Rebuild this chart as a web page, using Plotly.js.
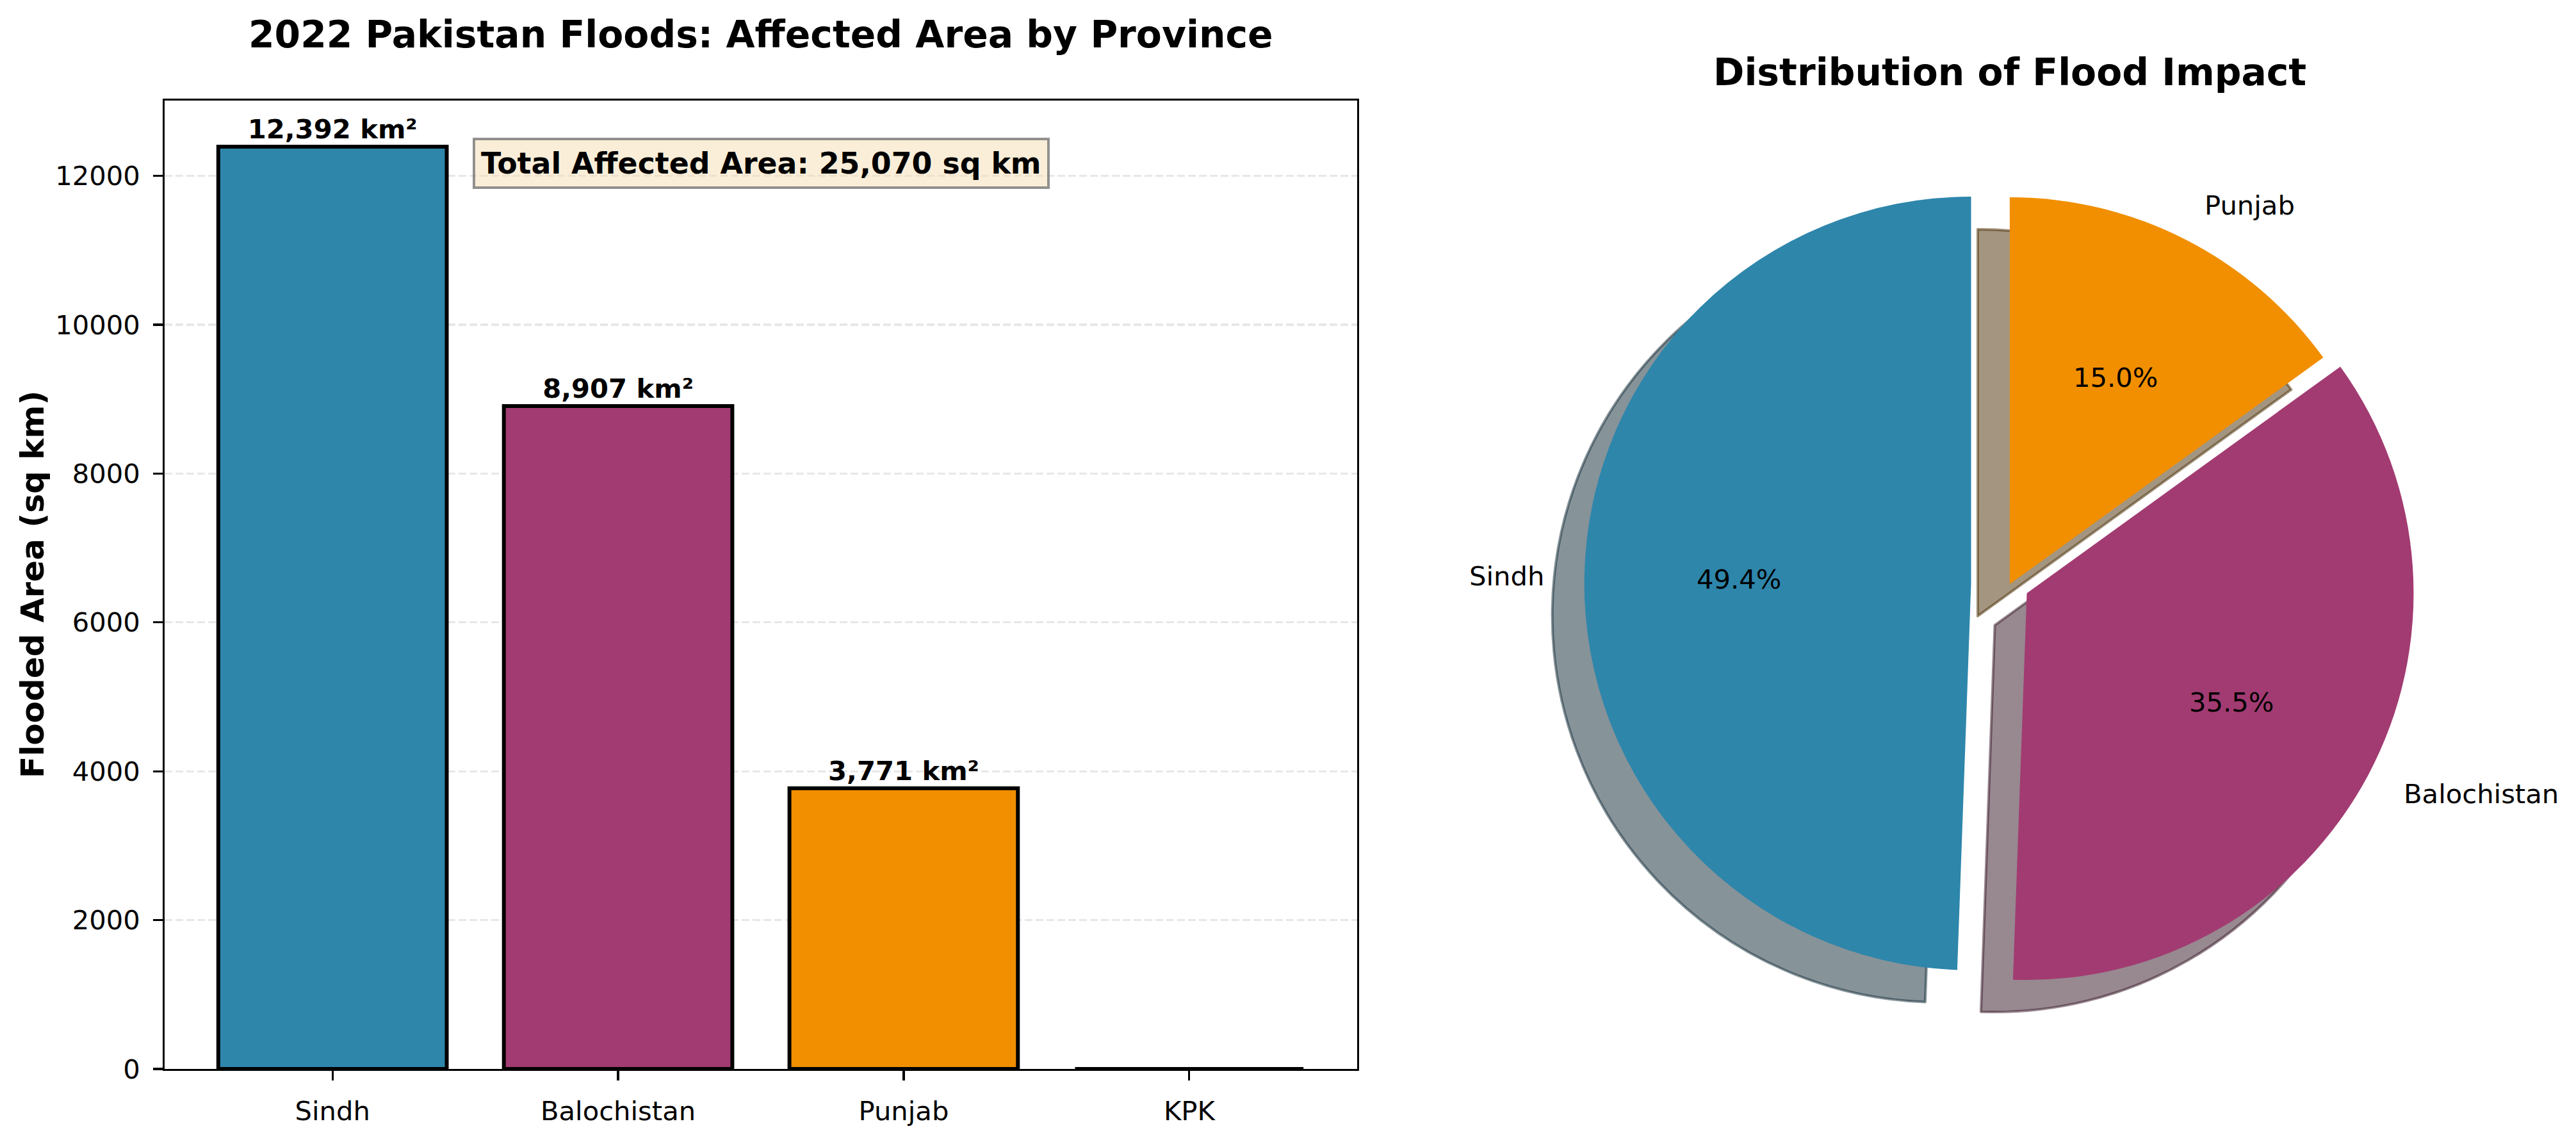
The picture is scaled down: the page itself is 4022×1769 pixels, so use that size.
<!DOCTYPE html>
<html>
<head>
<meta charset="utf-8">
<script src="https://cdn.plot.ly/plotly-3.0.1.min.js"></script>
<style>html,body{margin:0;padding:0;background:#ffffff;}</style>
</head>
<body>
<div id="chart" style="width:4022px;height:1769px;"></div>
<script>
// ---------------- data ----------------
const provinces = ['Sindh', 'Balochistan', 'Punjab', 'KPK'];
const areaSqKm = [12392, 8907, 3771, 0];
const yTickValues = [0, 2000, 4000, 6000, 8000, 10000, 12000];
const barTitle = '2022 Pakistan Floods: Affected Area by Province';
const pieTitle = 'Distribution of Flood Impact';
const yLabel = 'Flooded Area (sq km)';

// ---------------- style ----------------
const W = 4022, H = 1769;
const FONT = 'DejaVu Sans';
const colors = ['#2E86AB', '#A23B72', '#F18F01', '#C73E1D'];
const explodeByProvince = {Sindh: 0.1, Balochistan: 0.05, Punjab: 0, KPK: 0};
const barDom = {x: [257 / W, 2119 / W], y: [(H - 1669) / H, (H - 157) / H]};
const pieDom = {x: [0.61502, 0.94535], y: [0.10888, 0.86004]};
const shadowPx = 50;

function hexToRgb(h) {
  const n = parseInt(h.slice(1), 16);
  return [(n >> 16) & 255, (n >> 8) & 255, n & 255];
}

const total = areaSqKm.reduce((a, b) => a + b, 0);
const fmt = v => v.toLocaleString('en-US');

// ---------------- bar chart ----------------
const barTrace = {
  type: 'bar',
  x: provinces,
  y: areaSqKm,
  width: 0.8,
  marker: {color: colors, line: {color: '#000000', width: 6}},
  text: areaSqKm.map(v => v > 0 ? fmt(v) + ' km²' : ''),
  textposition: 'outside',
  constraintext: 'none',
  cliponaxis: false,
  textfont: {family: FONT, size: 41.7, color: '#000000', weight: 'bold'},
  hoverinfo: 'skip',
  xaxis: 'x', yaxis: 'y',
  showlegend: false
};

// ---------------- pie ----------------
const pieIdx = areaSqKm.map((v, i) => i).filter(i => areaSqKm[i] > 0);
const pieLabels = pieIdx.map(i => provinces[i]);
const pieValues = pieIdx.map(i => areaSqKm[i]);
const pieColors = pieIdx.map(i => colors[i]);
const piePull = pieLabels.map(l => explodeByProvince[l]);
const pieTotal = pieValues.reduce((a, b) => a + b, 0);
// first slice starts at 12 o'clock and runs counterclockwise
const pieRotation = -360 * pieValues[0] / pieTotal;
const shadowColors = pieColors.map(c => {
  const [r, g, b] = hexToRgb(c);
  return `rgba(${Math.round(0.3 * r)},${Math.round(0.3 * g)},${Math.round(0.3 * b)},0.5)`;
});

const shadowTrace = {
  type: 'pie',
  labels: pieLabels,
  values: pieValues,
  sort: false,
  direction: 'counterclockwise',
  rotation: pieRotation,
  pull: piePull,
  domain: {
    x: [pieDom.x[0] - shadowPx / W, pieDom.x[1] - shadowPx / W],
    y: [pieDom.y[0] - shadowPx / H, pieDom.y[1] - shadowPx / H]
  },
  marker: {colors: shadowColors, line: {color: shadowColors, width: 4}},
  textinfo: 'none',
  hoverinfo: 'skip',
  showlegend: false
};

const pieTrace = {
  type: 'pie',
  labels: pieLabels,
  values: pieValues,
  sort: false,
  direction: 'counterclockwise',
  rotation: pieRotation,
  pull: piePull,
  domain: pieDom,
  marker: {colors: pieColors, line: {width: 0}},
  textinfo: 'none',
  hoverinfo: 'skip',
  showlegend: false
};

// label / percent positions derived from the pie geometry and the data
const cx = (pieDom.x[0] + pieDom.x[1]) / 2 * W;
const cy = H * (1 - (pieDom.y[0] + pieDom.y[1]) / 2);
const boxW = (pieDom.x[1] - pieDom.x[0]) * W;
const boxH = (pieDom.y[1] - pieDom.y[0]) * H;
const maxPull = Math.max(...piePull);
const R = Math.min(boxW, boxH) / 2 / (1 + maxPull);

const annotations = [];
let cum = 0;
pieValues.forEach((v, i) => {
  const a1 = 90 + 360 * cum / pieTotal;
  cum += v;
  const a2 = 90 + 360 * cum / pieTotal;
  const mid = (a1 + a2) / 2 * Math.PI / 180;
  const c = Math.cos(mid), s = Math.sin(mid);
  const ex = cx + piePull[i] * R * c;
  const ey = cy - piePull[i] * R * s;
  annotations.push({
    xref: 'paper', yref: 'paper',
    x: (ex + 1.1 * R * c) / W, y: 1 - (ey - 1.1 * R * s) / H,
    xanchor: c < 0 ? 'right' : 'left', yanchor: 'middle',
    text: pieLabels[i], showarrow: false,
    font: {family: FONT, size: 41.7, color: '#000000'}
  });
  annotations.push({
    xref: 'paper', yref: 'paper',
    x: (ex + 0.6 * R * c) / W, y: 1 - (ey - 0.6 * R * s) / H,
    xanchor: 'center', yanchor: 'middle',
    text: (100 * v / pieTotal).toFixed(1) + '%', showarrow: false,
    font: {family: FONT, size: 41.7, color: '#000000'}
  });
});

// titles and text box
annotations.push({
  xref: 'paper', yref: 'paper',
  x: (barDom.x[0] + barDom.x[1]) / 2, y: 1 - 54 / H,
  xanchor: 'center', yanchor: 'middle', showarrow: false,
  text: barTitle,
  font: {family: FONT, size: 58.3, color: '#000000', weight: 'bold'}
});
annotations.push({
  xref: 'paper', yref: 'paper',
  x: cx / W, y: 1 - 113 / H,
  xanchor: 'center', yanchor: 'middle', showarrow: false,
  text: pieTitle,
  font: {family: FONT, size: 58.3, color: '#000000', weight: 'bold'}
});
annotations.push({
  xref: 'paper', yref: 'paper',
  x: 51 / W, y: (barDom.y[0] + barDom.y[1]) / 2,
  xanchor: 'center', yanchor: 'middle', showarrow: false,
  textangle: -90,
  text: yLabel,
  font: {family: FONT, size: 50, color: '#000000', weight: 'bold'}
});
annotations.push({
  xref: 'x domain', yref: 'y domain',
  x: 0.5, y: 0.935,
  xanchor: 'center', yanchor: 'middle', showarrow: false,
  text: 'Total Affected Area: ' + fmt(total) + ' sq km',
  font: {family: FONT, size: 45.8, color: '#000000', weight: 'bold'},
  bgcolor: 'rgba(245,222,179,0.5)',
  bordercolor: 'rgba(110,110,110,0.75)',
  borderwidth: 4,
  borderpad: 9
});

const layout = {
  width: W, height: H,
  margin: {l: 0, r: 0, t: 0, b: 0, pad: 0},
  paper_bgcolor: '#ffffff',
  plot_bgcolor: '#ffffff',
  font: {family: FONT, size: 41.7, color: '#000000'},
  showlegend: false,
  xaxis: {
    domain: barDom.x,
    type: 'category',
    range: [-0.588, provinces.length - 1 + 0.588],
    showline: true, mirror: true, linecolor: '#000000', linewidth: 3.3,
    ticks: 'outside', ticklen: 14.6, tickwidth: 3.3, tickcolor: '#000000',
    ticklabelstandoff: 12,
    showgrid: false, zeroline: false,
    tickfont: {family: FONT, size: 41.7, color: '#000000'},
    fixedrange: true
  },
  yaxis: {
    domain: barDom.y,
    range: [0, Math.max(...areaSqKm) * 1.05],
    tickvals: yTickValues,
    ticktext: yTickValues.map(String),
    showline: true, mirror: true, linecolor: '#000000', linewidth: 3.3,
    ticks: 'outside', ticklen: 14.6, tickwidth: 3.3, tickcolor: '#000000',
    ticklabelstandoff: 12,
    showgrid: true, gridcolor: 'rgba(176,176,176,0.3)', gridwidth: 3.3,
    griddash: '12px,5px',
    zeroline: false,
    tickfont: {family: FONT, size: 41.7, color: '#000000'},
    fixedrange: true
  },
  annotations: annotations
};

Plotly.newPlot('chart', [barTrace, shadowTrace, pieTrace], layout, {staticPlot: true, displayModeBar: false});
</script>
</body>
</html>
